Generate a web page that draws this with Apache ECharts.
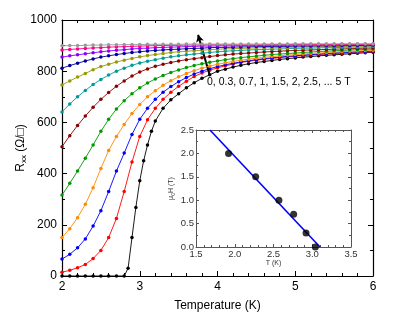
<!DOCTYPE html>
<html>
<head>
<meta charset="utf-8">
<script src="https://cdn.jsdelivr.net/npm/echarts@6/dist/echarts.min.js"></script>
<style>
html,body{margin:0;padding:0;background:#fff;}
#chart{width:415px;height:321px;}
</style>
</head>
<body>
<div id="chart"></div>
<script>
var FONT = 'Liberation Sans, Arial, sans-serif';

// temperature grid of the field curves (K)
var temps = [2.0,2.1,2.2,2.3,2.4,2.5,2.6,2.7,2.8,2.9,3.0,3.1,3.2,3.3,3.4,3.5,3.6,3.7,3.8,3.9,4.0,
	4.1,4.2,4.3,4.4,4.5,4.6,4.7,4.8,4.9,5.0,5.1,5.2,5.3,5.4,5.5,5.6,5.7,5.8,5.9,6.0];

// zero field curve has its own, finer grid near the transition
var tZero = [2.0,2.1,2.2,2.3,2.4,2.5,2.6,2.7,2.8,2.85,2.9,2.95,3.0,3.05,3.1,3.15,3.2,3.3,3.4,3.5,3.6,3.7,3.8,3.9,4.0,
	4.1,4.2,4.3,4.4,4.5,4.6,4.7,4.8,4.9,5.0,5.1,5.2,5.3,5.4,5.5,5.6,5.7,5.8,5.9,6.0];
var r00 = [0,0,0,0,0,0,0,0,0,30,150,268,372,450,512,565,605,655,688,712,735,755,772,786,800,
	808,816,823,829,834,838,842,846,849,852,855,857,860,862,864,866,868,870,872,874];

// Rxx (ohm/sq) for each field
var r03 = [15,22,32,45,68,100,150,225,330,445,545,610,655,690,718,741,761,779,793,804,813,
	821,828,834,839,843,847,850,853,856,858,861,863,865,867,869,870,872,873,875,876];
var r07 = [66,85,110,145,195,255,330,410,480,553,612,655,690,718,740,759,775,789,800,810,818,
	825,831,836,841,845,849,852,855,858,860,863,865,867,869,871,873,874,876,877,879];
var r10 = [150,185,228,280,345,420,490,545,592,635,670,700,724,745,763,778,791,802,812,820,827,
	833,838,843,847,851,854,857,860,863,865,867,869,871,873,875,876,878,879,881,882];
var r15 = [316,362,410,460,512,565,612,652,685,712,735,754,770,783,795,805,814,822,829,835,840,
	845,849,853,856,859,862,865,867,869,871,873,875,877,878,880,881,883,884,885,887];
var r20 = [505,548,588,625,659,690,717,741,762,781,797,809,819,827,834,840,845,849,853,857,861,
	864,867,869,871,873,875,877,878,880,881,882,883,884,885,886,887,888,889,890,891];
var r25 = [641,672,700,725,748,768,785,800,812,823,832,839,845,851,856,860,864,867,870,873,876,
	878,880,881,883,884,885,886,887,888,889,890,890,891,892,892,893,894,894,895,896];
var r30 = [746,762,777,791,806,818,827,836,843,850,856,861,865,869,873,876,878,880,882,884,886,
	887,888,889,890,891,892,892,893,893,894,894,895,895,896,896,897,897,898,898,899];
var r35 = [812,822,831,840,848,855,860,865,869,873,876,879,881,883,885,886,888,889,890,892,893,
	893,894,895,895,896,896,897,897,897,898,898,898,899,899,899,900,900,900,901,901];
var r40 = [855,860,864,868,872,876,879,882,884,887,889,890,892,893,894,895,896,897,898,898,899,
	899,899,900,900,900,901,901,901,901,902,902,902,902,902,903,903,903,903,903,903];
var r45 = [883,885,887,889,891,892,894,895,896,897,898,899,900,900,901,901,902,902,902,903,903,
	903,903,903,903,903,904,904,904,904,904,904,904,904,904,904,905,905,905,905,905];
var r50 = [899,900,900,901,902,902,903,903,904,904,904,905,905,905,905,905,906,906,906,906,906,
	906,906,906,906,906,906,906,906,906,907,907,907,907,907,907,907,907,907,907,907];

var fieldNames = ['0 T','0.3 T','0.7 T','1 T','1.5 T','2 T','2.5 T','3 T','3.5 T','4 T','4.5 T','5 T'];
var fieldCurves = [r00,r03,r07,r10,r15,r20,r25,r30,r35,r40,r45,r50];
var color = ['#000000','#ff0000','#0000ff','#ff8a00','#009900','#8b0000','#009999','#999900','#000099','#8a00ff','#ff0088','#999999'];

// inset: Tc vs field, and the linear fit
var tcT = [1.92, 2.27, 2.57, 2.76, 2.92, 3.04];
var tcH = [2.0, 1.5, 1.0, 0.7, 0.3, 0.0];
var fitT = [1.68, 3.10];
var fitH = [2.5, 0.0];

function pairs(xs, ys) {
	var out = [];
	for (var i = 0; i < ys.length; i++) {
		out.push([xs[i], ys[i]]);
	}
	return out;
}

function $extend(a, b) {
	for (var k in b) a[k] = b[k];
	return a;
}

function axis(grid, pos, opt) {
	return {
		gridIndex: grid, type: 'value', position: pos,
		axisLine: { onZero: false, lineStyle: { color: opt.line, width: opt.lw } },
		axisTick: { inside: true, length: opt.tick, lineStyle: { color: opt.line } },
		minorTick: { show: true, splitNumber: 5, length: opt.minorLen, lineStyle: { color: opt.line } },
		splitLine: { show: false },
		axisLabel: { show: pos == 'bottom' || pos == 'left', color: opt.label, fontSize: opt.fs, fontFamily: FONT, margin: opt.margin }
	};
}

var mainStyle = { line: '#000', lw: 1.2, tick: 5, minorLen: 3, label: '#000', fs: 12, margin: 5 };
var insetStyle = { line: '#555', lw: 1, tick: 3, minorLen: 2, label: '#333', fs: 9.5, margin: 2 };

var xMain = $extend(axis(0, 'bottom', mainStyle), { min: 2, max: 6, interval: 1,
	name: 'Temperature (K)', nameLocation: 'middle', nameGap: 24,
	nameTextStyle: { fontSize: 12, fontFamily: FONT, color: '#000' } });
var xMainTop = $extend(axis(0, 'top', mainStyle), { min: 2, max: 6, interval: 1 });

var yMain = $extend(axis(0, 'left', mainStyle), { min: 0, max: 1000, interval: 200,
	name: '{r|R}{s|xx}{r| (Ω/□)}', nameLocation: 'middle', nameGap: 34, nameRotate: 90,
	nameMoveOverlap: false,
	nameTextStyle: { color: '#000', rich: {
		r: { fontSize: 12, fontFamily: FONT, color: '#000' },
		s: { fontSize: 8, fontFamily: FONT, color: '#000', padding: [7, 0, 0, 0] }
	} } });
yMain.axisLabel.formatter = function (v) { return String(v); };
yMain.minorTick.splitNumber = 2;
var yMainRight = $extend(axis(0, 'right', mainStyle), { min: 0, max: 1000, interval: 200 });
yMainRight.minorTick.splitNumber = 2;

var fmt1 = function (v) { return v.toFixed(1); };
var xIn = $extend(axis(1, 'bottom', insetStyle), { min: 1.5, max: 3.5, interval: 0.5,
	name: 'T (K)', nameLocation: 'middle', nameGap: 12,
	nameTextStyle: { fontSize: 7, fontFamily: FONT, color: '#333' } });
xIn.axisLabel.formatter = fmt1;
var xInTop = $extend(axis(1, 'top', insetStyle), { min: 1.5, max: 3.5, interval: 0.5 });
var yIn = $extend(axis(1, 'left', insetStyle), { min: 0, max: 2.5, interval: 0.5,
	name: '{a|μ}{b|0}{a|H (T)}', nameLocation: 'middle', nameGap: 20, nameRotate: 90,
	nameTextStyle: { rich: {
		a: { fontSize: 7, fontFamily: FONT, color: '#333' },
		b: { fontSize: 5, fontFamily: FONT, color: '#333', padding: [4, 0, 0, 0] }
	} } });
yIn.axisLabel.formatter = fmt1;
yIn.minorTick.splitNumber = 2;
var yInRight = $extend(axis(1, 'right', insetStyle), { min: 0, max: 2.5, interval: 0.5 });
yInRight.minorTick.splitNumber = 2;

var series = [];
for (var i = 0; i < fieldCurves.length; i++) {
	var s = {
		name: fieldNames[i],
		type: 'line',
		xAxisIndex: 0,
		yAxisIndex: 0,
		data: pairs(i == 0 ? tZero : temps, fieldCurves[i]),
		symbol: 'circle',
		symbolSize: 3.5,
		showSymbol: true,
		itemStyle: { color: color[i] },
		lineStyle: { color: color[i], width: 0.9 },
		z: 2 + i
	};
	if (i == 0) {
		s.markLine = {
			silent: true,
			symbol: ['none', 'arrow'],
			symbolSize: [6, 7],
			label: { show: false },
			lineStyle: { color: '#000', width: 2, type: 'solid' },
			data: [[{ coord: [3.90, 784] }, { coord: [3.75, 942] }]]
		};
	}
	series.push(s);
}

series.push({
	type: 'line', xAxisIndex: 2, yAxisIndex: 2,
	data: pairs(fitT, fitH), symbol: 'none',
	lineStyle: { color: '#0000ff', width: 1.6 }, z: 20
});
series.push({
	type: 'scatter', xAxisIndex: 2, yAxisIndex: 2,
	data: pairs(tcT, tcH), symbol: 'circle', symbolSize: 7,
	itemStyle: { color: '#000' }, z: 21
});

var option = {
	backgroundColor: '#fff',
	animation: false,
	grid: [
		{ left: 62, top: 20, right: 42, bottom: 45, outerBoundsMode: 'none' },
		{ left: 196, top: 130, width: 155, height: 117, outerBoundsMode: 'none' }
	],
	xAxis: [xMain, xMainTop, xIn, xInTop],
	yAxis: [yMain, yMainRight, yIn, yInRight],
	graphic: [{
		type: 'text', left: 207, top: 77,
		style: { text: '0, 0.3, 0.7, 1, 1.5, 2, 2.5, ... 5 T', fontSize: 10.5, fontFamily: FONT, fill: '#000' }
	}],
	series: series
};

var chart = echarts.init(document.getElementById('chart'), null, { renderer: 'canvas' });
chart.setOption(option);
</script>
</body>
</html>
